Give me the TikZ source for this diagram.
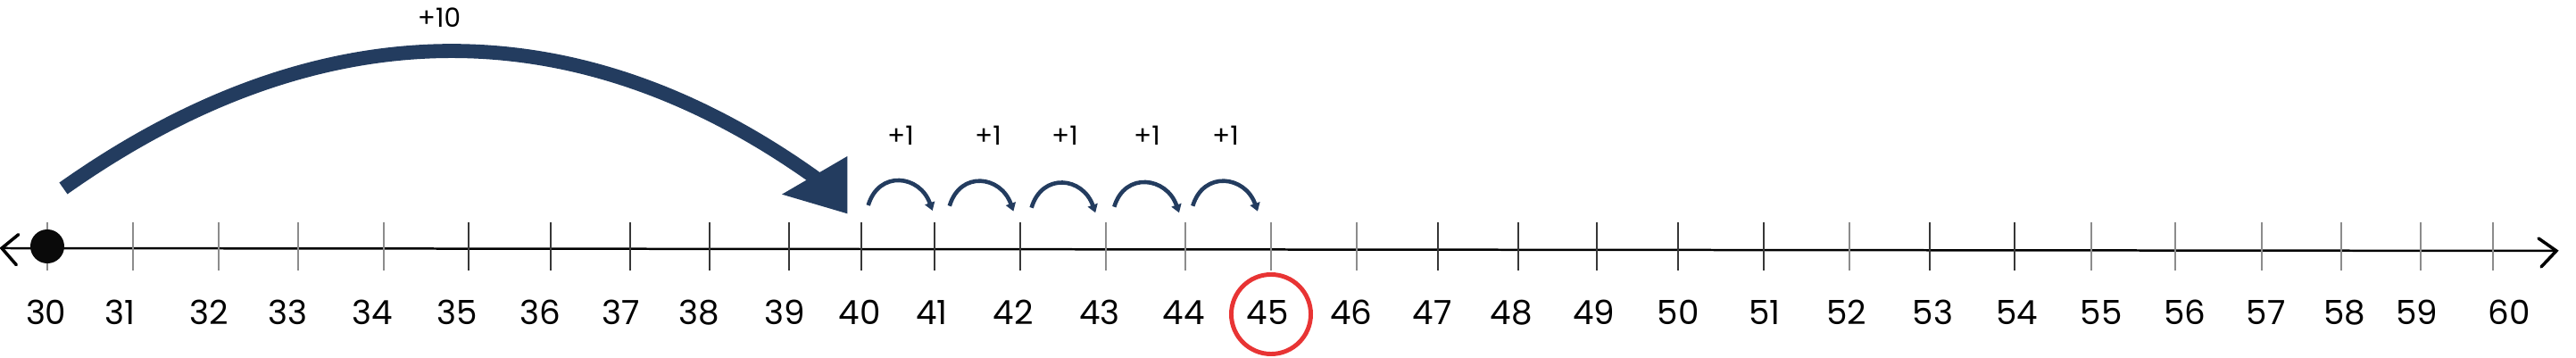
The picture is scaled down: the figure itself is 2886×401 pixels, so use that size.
\documentclass[tikz,border=0pt]{standalone}
\usepackage{fontspec}
\setmainfont{Poppins}
\usetikzlibrary{arrows.meta}
\definecolor{navy}{RGB}{35,60,95}
\definecolor{ringred}{RGB}{232,52,52}
\definecolor{ticklight}{RGB}{140,140,140}
\definecolor{tickdark}{RGB}{55,55,55}
\begin{document}
\begin{tikzpicture}[x=0.01cm,y=-0.01cm,
  numlabel/.style={inner sep=0pt, font=\fontsize{10.6}{12}\selectfont},
  steplabel/.style={inner sep=0pt, font=\fontsize{8.4}{10}\selectfont},
  tickmark/.style={line width=0.57pt},
  axisline/.style={line width=0.71pt, black},
  axishead/.style={line width=1pt, line cap=round, black},
  hop/.style={navy, line width=1.3pt, -{Triangle[length=2.6pt,width=3.2pt]}},
  bighop/.style={navy, line width=4.5pt},
]
\useasboundingbox (0,0) rectangle (2886,401);
% axis
\coordinate (L) at (2,278);
\coordinate (R) at (2864,281);
\coordinate (La) at (20.7,262.7);
\coordinate (Lb) at (18.3,296.7);
\coordinate (Ra) at (2844,267);
\coordinate (Rb) at (2847,299);
\draw[axisline] (L) -- (R);
\draw[axishead] (La) -- (L) -- (Lb);
\draw[axishead] (Ra) -- (R) -- (Rb);
% ticks and labels
\foreach \n/\x/\lx/\c in {
 30/53/51.7/ticklight, 31/148.7/134/ticklight, 32/244.7/234/ticklight,
 33/333.7/322/ticklight, 34/429.7/417/ticklight, 35/525.3/512/tickdark,
 36/617.3/605/tickdark, 37/706.3/695.7/tickdark, 38/795.3/783.7/tickdark,
 39/884.3/879.3/tickdark, 40/965.3/963/tickdark, 41/1047.3/1044/tickdark,
 42/1143.4/1135/tickdark, 43/1239/1232/ticklight, 44/1327.9/1326/ticklight,
 45/1424/1420/ticklight, 46/1519.7/1513.7/ticklight, 47/1611.3/1604.7/tickdark,
 48/1700.7/1693.3/tickdark, 49/1789.3/1785.7/tickdark, 50/1880.3/1880/tickdark,
 51/1976.3/1977/tickdark, 52/2072.3/2068.7/ticklight, 53/2161.7/2165.3/tickdark,
 54/2257.3/2259.7/tickdark, 55/2343.3/2354/ticklight, 56/2436.8/2448/ticklight,
 57/2533.6/2538.6/ticklight, 58/2622.9/2627/ticklight, 59/2712.2/2708/ticklight,
 60/2792.9/2811/ticklight}{
  \coordinate (t\n a) at (\x,249);
  \coordinate (t\n b) at (\x,303);
  \draw[tickmark, draw=\c] (t\n a) -- (t\n b);
  \node[numlabel] (n\n) at (\lx,350) {\n};
}
% start dot
\fill[black!96] (53,276) circle [radius=0.19cm];
% ring around 45
\node[draw=ringred, circle, line width=1.4pt, minimum size=0.89cm, inner sep=0pt] (ring) at (1424,352) {};
% big jump +10
\coordinate (bigstart) at (71,211);
\coordinate (bigend) at (916,201);
\draw[bighop] (bigstart) .. controls (357,9) and (645,6) .. (bigend);
\fill[navy] (949.3,175) -- (876,217.7) -- (949.3,239.3) -- cycle;
\node[steplabel] (p10) at (492,20) {+10};
% small jumps +1
\foreach \i/\sx/\sy/\ex/\ey/\lx in {
 1/972.7/230/1044.7/236/1009,
 2/1063.8/230.7/1135.4/236.7/1107,
 3/1155.6/232.7/1227.2/238.3/1193,
 4/1248.3/231.7/1321/238.3/1285,
 5/1336.3/230.7/1409/236.7/1373}{
  \coordinate (s\i) at (\sx,\sy);
  \coordinate (e\i) at (\ex,\ey);
  \draw[hop] (s\i) .. controls +(12,-40) and +(-14,-40) .. (e\i);
  \node[steplabel] (p\i) at (\lx,152) {+1};
}
\end{tikzpicture}
\end{document}
